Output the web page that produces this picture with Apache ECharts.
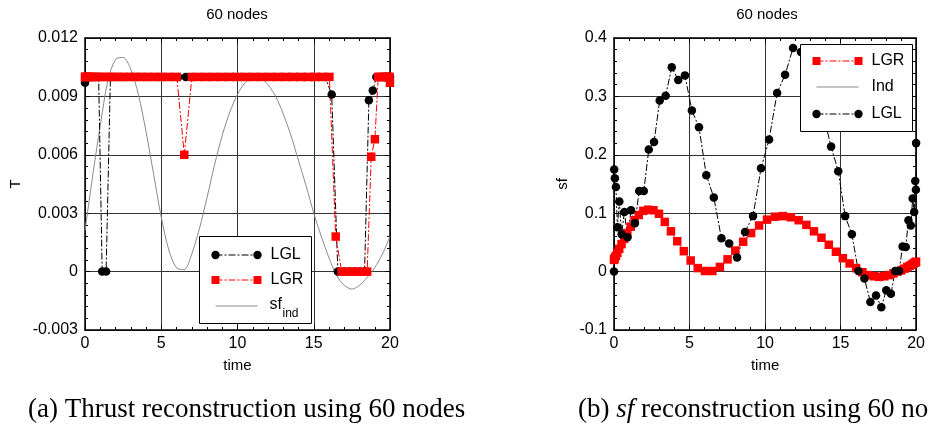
<!DOCTYPE html>
<html><head><meta charset="utf-8">
<script src="https://cdn.jsdelivr.net/npm/echarts@6/dist/echarts.min.js"></script>
<style>html,body{margin:0;padding:0;background:#fff}#c{width:928px;height:428px}</style>
</head><body><div id="c"></div><script>
// ---------------- data ----------------
const xTickLabels = ['0', '5', '10', '15', '20'];
const thrustTickLabels = ['-0.003', '0', '0.003', '0.006', '0.009', '0.012'];
const sfTickLabels = ['-0.1', '0', '0.1', '0.2', '0.3', '0.4'];

// LGL node times (60 nodes)
const lglTime = [0, 0.014, 0.057, 0.127, 0.226, 0.352, 0.506, 0.686, 0.894, 1.127,
  1.384, 1.667, 1.973, 2.302, 2.653, 3.026, 3.420, 3.823, 4.253, 4.696,
  5.155, 5.627, 6.112, 6.608, 7.113, 7.626, 8.147, 8.673, 9.202, 9.734,
  10.266, 10.798, 11.327, 11.853, 12.374, 12.887, 13.392, 13.888, 14.373, 14.845,
  15.304, 15.747, 16.177, 16.580, 16.974, 17.347, 17.698, 18.027, 18.333, 18.616,
  18.873, 19.106, 19.314, 19.494, 19.648, 19.774, 19.873, 19.943, 19.986, 20];
// LGR node times (60 nodes)
const lgrTime = [0, 0.014, 0.056, 0.125, 0.222, 0.346, 0.498, 0.675, 0.879, 1.108,
  1.362, 1.640, 1.942, 2.266, 2.612, 2.978, 3.365, 3.770, 4.187, 4.624,
  5.076, 5.543, 6.021, 6.511, 7.010, 7.518, 8.033, 8.553, 9.077, 9.604,
  10.132, 10.660, 11.185, 11.708, 12.225, 12.736, 13.240, 13.735, 14.220, 14.693,
  15.152, 15.597, 16.026, 16.439, 16.833, 17.207, 17.561, 17.894, 18.212, 18.502,
  18.768, 19.010, 19.226, 19.417, 19.581, 19.719, 19.830, 19.913, 19.969, 19.997];

// (a) thrust T
const lglThrust = [0.0097, 0.01, 0.01, 0.01, 0.01, 0.01, 0.01, 0.01, 0.01, 0,
  0, 0.01, 0.01, 0.01, 0.01, 0.01, 0.01, 0.01, 0.01, 0.01,
  0.01, 0.01, 0.01, 0.01, 0.01, 0.01, 0.01, 0.01, 0.01, 0.01,
  0.01, 0.01, 0.01, 0.01, 0.01, 0.01, 0.01, 0.01, 0.01, 0.01,
  0.01, 0.01, 0.0091, 0, 0, 0, 0, 0, 0, 0.0088,
  0.0093, 0.01, 0.01, 0.01, 0.01, 0.01, 0.01, 0.01, 0.01, 0.01];
const lgrThrust = [0.01, 0.01, 0.01, 0.01, 0.01, 0.01, 0.01, 0.01, 0.01, 0.01,
  0.01, 0.01, 0.01, 0.01, 0.01, 0.01, 0.01, 0.01, 0.01, 0.01,
  0.01, 0.01, 0.01, 0.006, 0.01, 0.01, 0.01, 0.01, 0.01, 0.01,
  0.01, 0.01, 0.01, 0.01, 0.01, 0.01, 0.01, 0.01, 0.01, 0.01,
  0.01, 0.01, 0.01, 0.0018, 0, 0, 0, 0, 0, 0,
  0.0059, 0.0068, 0.01, 0.01, 0.01, 0.01, 0.01, 0.01, 0.01, 0.0097];

// indirect-method reference curves, sampled every 0.5
const indTime = [0, 0.5, 1, 1.5, 2, 2.5, 3, 3.5, 4, 4.5, 5, 5.5, 6, 6.5, 7, 7.5, 8, 8.5, 9, 9.5,
  10, 10.5, 11, 11.5, 12, 12.5, 13, 13.5, 14, 14.5, 15, 15.5, 16, 16.5, 17, 17.5, 18, 18.5, 19, 19.5, 20];
const sfIndThrust = [0.0021, 0.0049, 0.0075, 0.0098, 0.0109, 0.0110, 0.0104, 0.0091, 0.0072, 0.0050,
  0.0028, 0.0011, 0.0002, 0.0001, 0.0009, 0.0022, 0.0038, 0.0055, 0.0070, 0.0082,
  0.0091, 0.0097, 0.0099, 0.0099, 0.0096, 0.0090, 0.0081, 0.0070, 0.0057, 0.0044,
  0.0030, 0.0018, 0.0007, -0.0002, -0.0007, -0.0009, -0.0007, -0.0003, 0.0002, 0.0009, 0.0018];

// (b) sf
const lglSf = [0.000, 0.175, 0.160, 0.145, 0.076, 0.120, 0.064, 0.102, 0.059, 0.105,
  0.083, 0.138, 0.138, 0.209, 0.222, 0.293, 0.301, 0.350, 0.328, 0.336,
  0.276, 0.247, 0.165, 0.127, 0.057, 0.048, 0.024, 0.068, 0.095, 0.177,
  0.226, 0.306, 0.337, 0.383, 0.376, 0.355, 0.315, 0.265, 0.214, 0.172,
  0.095, 0.064, 0.001, -0.012, -0.052, -0.041, -0.061, -0.032, -0.038, 0.001,
  0.001, 0.043, 0.042, 0.088, 0.079, 0.125, 0.102, 0.155, 0.140, 0.220];
const lgrSf = [0.020, 0.021, 0.024, 0.027, 0.032, 0.039, 0.047, 0.056, 0.066, 0.077,
  0.088, 0.097, 0.104, 0.106, 0.105, 0.099, 0.085, 0.069, 0.052, 0.035,
  0.019, 0.006, 0.001, 0.001, 0.008, 0.021, 0.036, 0.051, 0.066, 0.079,
  0.089, 0.094, 0.095, 0.093, 0.088, 0.080, 0.069, 0.058, 0.046, 0.034,
  0.023, 0.014, 0.006, -0.001, -0.006, -0.008, -0.009, -0.008, -0.006, -0.003,
  0.000, 0.002, 0.005, 0.008, 0.010, 0.012, 0.014, 0.015, 0.016, 0.017];
const indSf = [0.020, 0.047, 0.072, 0.094, 0.105, 0.106, 0.097, 0.080, 0.060, 0.040,
  0.022, 0.007, 0.001, 0.001, 0.008, 0.020, 0.035, 0.050, 0.064, 0.077,
  0.087, 0.093, 0.095, 0.094, 0.090, 0.084, 0.074, 0.064, 0.052, 0.039,
  0.027, 0.016, 0.006, -0.002, -0.007, -0.009, -0.007, -0.003, 0.002, 0.009, 0.017];

// ---------------- chart ----------------
const FONT = '"Liberation Sans", Arial, sans-serif';
const SERIF = '"Liberation Serif", "Times New Roman", serif';
const DASHDOT = [7, 2, 2, 2];
const chart = echarts.init(document.getElementById('c'));
const pair = (xs, ys) => xs.map((x, i) => [x, ys[i]]);

const gridLine = { show: true, lineStyle: { color: '#333', width: 1 } };
function xAxis(grid, pos) {
  const main = pos === 'bottom';
  return {
    type: 'value', gridIndex: grid, position: pos, min: 0, max: 20, interval: 5,
    axisLine: { show: true, onZero: false, lineStyle: { color: '#000', width: 1.5 } },
    axisTick: { show: true, inside: true, length: 5, lineStyle: { color: '#000' } },
    minorTick: { show: true, splitNumber: 5, length: 3, lineStyle: { color: '#000' } },
    axisLabel: { show: main, color: '#000', fontSize: 16, fontFamily: FONT, margin: 6,
      formatter: v => xTickLabels[Math.round(v / 5)] },
    splitLine: main ? gridLine : { show: false },
    name: main ? 'time' : '', nameLocation: 'middle', nameGap: 28,
    nameTextStyle: { color: '#000', fontSize: 15, fontFamily: FONT }
  };
}
function yAxis(grid, pos, min, max, interval, labels, name, gap) {
  const main = pos === 'left';
  return {
    type: 'value', gridIndex: grid, position: pos, min, max, interval,
    axisLine: { show: true, onZero: false, lineStyle: { color: '#000', width: 1.5 } },
    axisTick: { show: true, inside: true, length: 5, lineStyle: { color: '#000' } },
    minorTick: { show: true, splitNumber: 5, length: 3, lineStyle: { color: '#000' } },
    axisLabel: { show: main, color: '#000', fontSize: 16, fontFamily: FONT, margin: 7,
      formatter: v => labels[Math.round((v - min) / interval)] },
    splitLine: main ? gridLine : { show: false },
    name: main ? name : '', nameLocation: 'middle', nameGap: gap,
    nameTextStyle: { color: '#000', fontSize: 15, fontFamily: FONT }
  };
}

function lglStyle(x, y, data) {
  return { type: 'line', name: 'LGL', xAxisIndex: x, yAxisIndex: y, data,
    symbol: 'circle', symbolSize: 8.5, showAllSymbol: true,
    itemStyle: { color: '#000' }, lineStyle: { color: '#000', width: 1, type: DASHDOT } };
}
function lgrStyle(x, y, data) {
  return { type: 'line', name: 'LGR', xAxisIndex: x, yAxisIndex: y, data,
    symbol: 'rect', symbolSize: 8.5, showAllSymbol: true,
    itemStyle: { color: '#ff0000' }, lineStyle: { color: '#ff0000', width: 1, type: DASHDOT } };
}
function indStyle(x, y, name, data) {
  return { type: 'line', name, xAxisIndex: x, yAxisIndex: y, data, smooth: 0.3,
    symbol: 'none', lineStyle: { color: '#8a8a8a', width: 1 } };
}

// legend drawing helpers (layout only)
function legendBox(x, y, w, h, items) {
  const els = [{ type: 'rect', shape: { x, y, width: w, height: h },
    style: { fill: '#fff', stroke: '#000', lineWidth: 1 }, z: 100 }];
  items.forEach(it => {
    const x1 = x + 16, x2 = x + 58, yy = it.y;
    if (it.kind === 'ind') {
      els.push({ type: 'line', shape: { x1, y1: yy, x2, y2: yy }, style: { stroke: '#8a8a8a', lineWidth: 1 }, z: 101 });
    } else {
      const col = it.kind === 'lgl' ? '#000' : '#ff0000';
      els.push({ type: 'line', shape: { x1, y1: yy, x2, y2: yy }, style: { stroke: col, lineWidth: 1, lineDash: DASHDOT }, z: 101 });
      [x1, x2].forEach(cx => {
        if (it.kind === 'lgl') els.push({ type: 'circle', shape: { cx, cy: yy, r: 4.2 }, style: { fill: col }, z: 102 });
        else els.push({ type: 'rect', shape: { x: cx - 4, y: yy - 4, width: 8, height: 8 }, style: { fill: col }, z: 102 });
      });
    }
    if (it.sub) {
      els.push({ type: 'text', x: x + 70, y: yy - 1, style: { text: it.text, fill: '#000', font: '16px ' + FONT, textVerticalAlign: 'middle' }, z: 103 });
      els.push({ type: 'text', x: x + 83, y: yy + 8, style: { text: it.sub, fill: '#000', font: '12px ' + FONT, textVerticalAlign: 'middle' }, z: 103 });
    } else {
      els.push({ type: 'text', x: x + 71, y: yy, style: { text: it.text, fill: '#000', font: '16px ' + FONT, textVerticalAlign: 'middle' }, z: 103 });
    }
  });
  return els;
}

const graphics = [].concat(
  legendBox(199.5, 236.5, 112, 87, [
    { kind: 'lgl', text: 'LGL', y: 255 },
    { kind: 'lgr', text: 'LGR', y: 280 },
    { kind: 'ind', text: 'sf', sub: 'ind', y: 306 }
  ]),
  legendBox(800.5, 44.5, 112, 87, [
    { kind: 'lgr', text: 'LGR', y: 61 },
    { kind: 'ind', text: 'Ind', y: 87 },
    { kind: 'lgl', text: 'LGL', y: 114 }
  ]),
  [
    { type: 'text', x: 237, y: 15, style: { text: '60 nodes', fill: '#000', font: '15px ' + FONT, textAlign: 'center', textVerticalAlign: 'middle' } },
    { type: 'text', x: 767, y: 15, style: { text: '60 nodes', fill: '#000', font: '15px ' + FONT, textAlign: 'center', textVerticalAlign: 'middle' } },
    { type: 'text', x: 28, y: 410, style: { text: '(a) Thrust reconstruction using 60 nodes', fill: '#000', font: '27px ' + SERIF, textVerticalAlign: 'middle' } },
    { type: 'text', x: 578, y: 410, style: { text: '(b) {i|sf} reconstruction using 60 nodes', fill: '#000', font: '27px ' + SERIF, textVerticalAlign: 'middle',
      rich: { i: { fontStyle: 'italic', fontSize: 27, fontFamily: SERIF, fill: '#000' } } } }
  ]
);

chart.setOption({
  animation: false,
  backgroundColor: '#fff',
  grid: [
    { left: 85, top: 38, width: 305, height: 292 },
    { left: 614, top: 38, width: 306, height: 292 }
  ],
  xAxis: [xAxis(0, 'bottom'), xAxis(0, 'top'), xAxis(1, 'bottom'), xAxis(1, 'top')],
  yAxis: [
    yAxis(0, 'left', -0.003, 0.012, 0.003, thrustTickLabels, 'T', 62),
    yAxis(0, 'right', -0.003, 0.012, 0.003, thrustTickLabels, '', 0),
    yAxis(1, 'left', -0.1, 0.4, 0.1, sfTickLabels, 'sf', 44),
    yAxis(1, 'right', -0.1, 0.4, 0.1, sfTickLabels, '', 0)
  ],
  series: [
    indStyle(0, 0, 'sf_ind', pair(indTime, sfIndThrust)),
    lglStyle(0, 0, pair(lglTime, lglThrust)),
    lgrStyle(0, 0, pair(lgrTime, lgrThrust)),
    lgrStyle(2, 2, pair(lgrTime, lgrSf)),
    indStyle(2, 2, 'Ind', pair(indTime, indSf)),
    lglStyle(2, 2, pair(lglTime, lglSf))
  ],
  graphic: graphics
});
</script></body></html>
